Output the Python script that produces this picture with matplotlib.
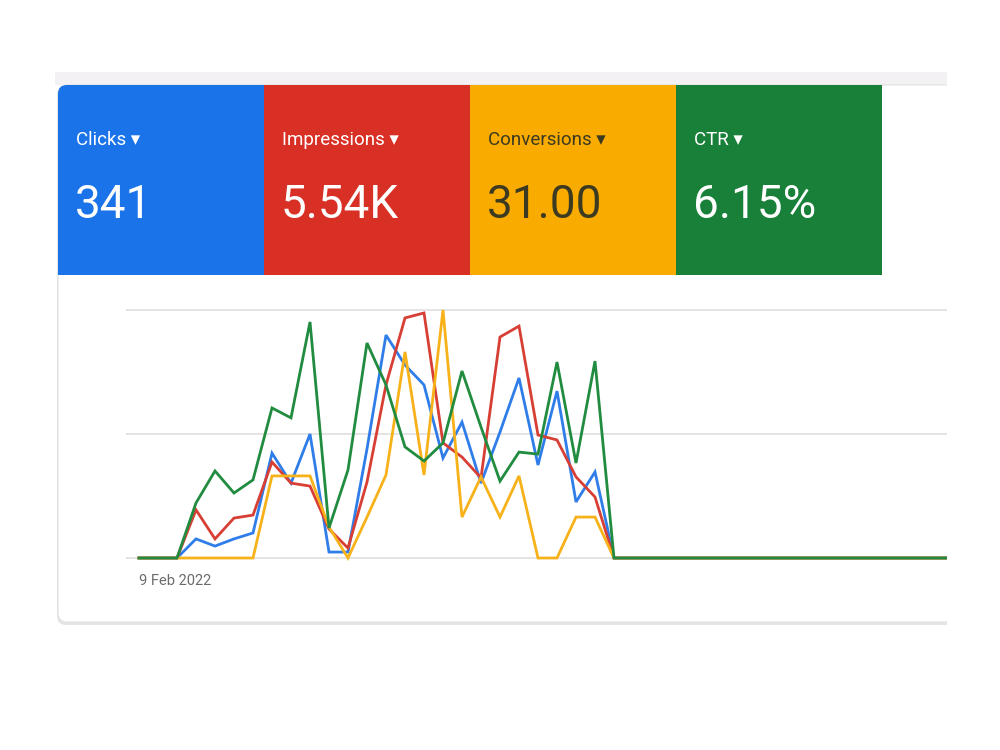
import matplotlib.pyplot as plt
from matplotlib.patches import Rectangle, FancyBboxPatch

# relative values (percent of each metric's own axis max), one point per day from 9 Feb 2022
clicks = [0, 0, 0, 7.7, 4.8, 7.7, 10.1, 42.3, 30.2, 50.0, 2.4, 2.4, 44.0, 89.9, 77.8,
          69.8, 40.3, 54.8, 30.2, 50.8, 72.6, 37.5, 67.3, 22.6, 34.7, 0, 0, 0, 0, 0,
          0, 0, 0, 0, 0, 0, 0, 0, 0, 0, 0, 0, 0, 0]
impressions = [0, 0, 0, 19.4, 7.7, 16.1, 17.3, 38.7, 30.2, 29.0, 11.7, 4.0, 30.6, 69.8, 96.8,
               98.8, 46.4, 40.7, 32.3, 89.1, 93.5, 49.6, 47.6, 32.7, 24.6, 0, 0, 0, 0, 0,
               0, 0, 0, 0, 0, 0, 0, 0, 0, 0, 0, 0, 0, 0]
conversions = [0, 0, 0, 0, 0, 0, 0, 33.1, 33.1, 33.1, 12.5, 0, 16.5, 33.5, 83.1,
               33.5, 100.0, 16.5, 32.7, 16.5, 33.1, 0, 0, 16.5, 16.5, 0, 0, 0, 0, 0,
               0, 0, 0, 0, 0, 0, 0, 0, 0, 0, 0, 0, 0, 0]
ctr = [0, 0, 0, 22.2, 35.1, 26.2, 31.5, 60.5, 56.5, 95.2, 12.1, 35.5, 86.7, 69.8, 44.8,
       39.1, 46.4, 75.4, 52.8, 31.0, 42.7, 41.9, 79.0, 38.3, 79.4, 0, 0, 0, 0, 0,
       0, 0, 0, 0, 0, 0, 0, 0, 0, 0, 0, 0, 0, 0]

metric_names = ['Clicks', 'Impressions', 'Conversions', 'CTR']
metric_totals = ['341', '5.54K', '31.00', '6.15%']
start_label = '9 Feb 2022'

tile_colors = ['#1a73e8', '#d93025', '#f9ab00', '#188038']
line_colors = ['#2f7de9', '#d73f35', '#f7b21a', '#218c3f']
text_colors = ['white', 'white', '#3c3a20', 'white']

fig = plt.figure(figsize=(10, 7.5), dpi=100)

# background layer in pixel coordinates
bg = fig.add_axes([0, 0, 1, 1])
bg.set_xlim(0, 1000)
bg.set_ylim(750, 0)
bg.axis('off')

bg.add_patch(Rectangle((55, 72), 892, 13, color='#f3f1f4', lw=0))
# card shadow + card
bg.add_patch(FancyBboxPatch((57, 87), 900, 538, boxstyle='round,pad=0,rounding_size=9',
                            fc='#d4d4d4', ec='none', alpha=0.6))
bg.add_patch(FancyBboxPatch((58, 85), 900, 537, boxstyle='round,pad=0,rounding_size=9',
                            fc='white', ec='#e2e2e2', lw=0.8))
bg.add_patch(Rectangle((947, 60), 60, 600, color='white', lw=0))

# metric tiles
tile_w = 206
for i, name in enumerate(metric_names):
    x0 = 58 + i * tile_w
    if i == 0:
        bg.add_patch(FancyBboxPatch((x0, 85), tile_w, 190, boxstyle='round,pad=0,rounding_size=9',
                                    fc=tile_colors[i], ec='none'))
        bg.add_patch(Rectangle((x0 + 10, 85), tile_w - 10, 190, color=tile_colors[i], lw=0))
        bg.add_patch(Rectangle((x0, 97), tile_w, 178, color=tile_colors[i], lw=0))
    else:
        bg.add_patch(Rectangle((x0, 85), tile_w + (1 if i < 3 else 0), 190, color=tile_colors[i], lw=0))
    bg.text(x0 + 18, 140, name + ' \u25be', color=text_colors[i], fontsize=13.5,
            family=['Roboto', 'DejaVu Sans'], va='center', ha='left')
    bg.text(x0 + 17, 205, metric_totals[i], color=text_colors[i], fontsize=33,
            family=['Roboto'], va='center', ha='left')

# chart area
ax = fig.add_axes([126 / 1000, (750 - 566) / 750, (947 - 126) / 1000, (566 - 300) / 750])
ax.patch.set_alpha(0)
days = list(range(len(clicks)))
for y in [0, 50, 100]:
    ax.axhline(y, color='#e2e2e2', lw=1.3, zorder=0)
for series, c in zip([clicks, impressions, conversions, ctr], line_colors):
    ax.plot(days, series, color=c, lw=2.0, solid_joinstyle='miter')
ax.set_xlim(-13 / 19, (947 - 139) / 19)
ax.set_ylim(-8 / 248 * 100, 258 / 248 * 100)
for s in ax.spines.values():
    s.set_visible(False)
ax.set_yticks([])
ax.set_xticks([0])
ax.set_xticklabels([start_label], ha='left', color='#6b6b6b', fontsize=10.5,
                   family=['Roboto', 'DejaVu Sans'])
ax.tick_params(axis='x', length=0, pad=6)

fig.savefig('out.png', dpi=100, facecolor='white')
